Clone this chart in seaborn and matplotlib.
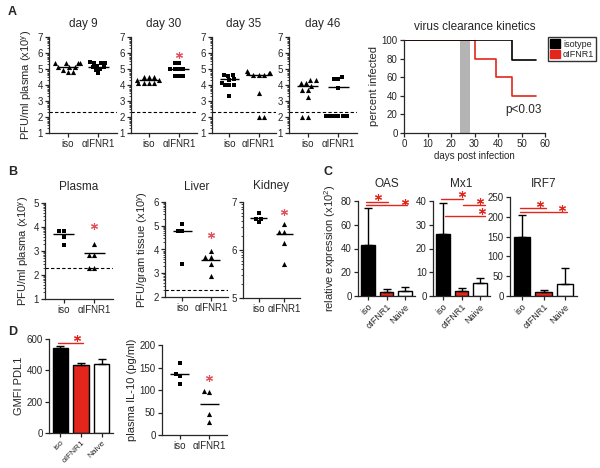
import matplotlib
matplotlib.use('Agg')
import matplotlib.pyplot as plt
import matplotlib.patches as mpatches
import numpy as np
import seaborn as sns

sns.set_style('ticks')
plt.rcParams['font.family'] = ['Liberation Sans', 'DejaVu Sans']
plt.rcParams['mathtext.fontset'] = 'custom'
plt.rcParams['mathtext.rm'] = 'Liberation Sans'
plt.rcParams['mathtext.it'] = 'Liberation Sans'
plt.rcParams['mathtext.default'] = 'regular'
plt.rcParams['axes.linewidth'] = 0.9
plt.rcParams['xtick.major.width'] = 0.9
plt.rcParams['ytick.major.width'] = 0.9

W, H = 600, 468
RED = '#e3261b'
STAR = '#e4505a'
STAR_MARK = (6, 2, 0)
groups = ['iso', 'αIFNR1']
bar_groups = ['iso', 'αIFNR1', 'Naive']
LOD = 2.3

###
### DATOS
###

# Panel A: virus titres by day
days = ['day 9', 'day 30', 'day 35', 'day 46']
iso_days = [
    [5.35, 5.35, 5.35, 5.35, 5.1, 5.1, 5.1, 4.95, 4.8, 4.8],
    [4.5, 4.5, 4.5, 4.3, 4.3, 4.15, 4.15, 4.15, 4.1],
    [4.65, 4.6, 4.55, 4.35, 4.3, 4.15, 4.0, 4.0, 4.0, 3.3],
    [4.3, 4.3, 4.1, 4.1, 3.95, 3.7, 3.7, 3.25, 2.0, 2.0],
]
ifnr_days = [
    [5.45, 5.4, 5.4, 5.35, 5.2, 5.15, 5.1, 5.0, 4.95, 4.75],
    [5.35, 5.35, 5.0, 5.0, 5.0, 5.0, 4.55, 4.55, 4.55],
    [4.85, 4.75, 4.75, 4.75, 4.65, 4.6, 4.6, 3.5, 2.0, 2.0],
    [4.5, 4.4, 4.4, 3.8, 2.05, 2.05, 2.05, 2.05, 2.05, 2.05],
]
iso_day_markers = ['^', '^', 's', '^']
ifnr_day_markers = ['s', 's', '^', 's']
iso_day_lines = [5.15, 4.3, 4.35, 3.92]
ifnr_day_lines = [5.15, 5.0, 4.6, 3.87]
day_stars = [None, 5.9, None, None]

# Panel A: clearance kinetics
kin_iso_x = [0, 46, 56]
kin_iso_y = [100, 78, 78]
kin_ifnr_x = [0, 30, 39, 46, 56]
kin_ifnr_y = [100, 80, 60, 40, 40]
treat_window = (24, 28)

# Panel B: organ titres
organs = ['Plasma', 'Liver', 'Kidney']
organ_ylabels = ['PFU/ml plasma (x10$^{y}$)', 'PFU/gram tissue (x10$^{y}$)', None]
organ_ylims = [(1, 5), (2, 6), (5, 7)]
organ_iso = [
    [3.85, 3.6, 3.85, 3.25],
    [5.08, 4.78, 4.78, 3.4],
    [6.78, 6.65, 6.58, 6.65],
]
organ_ifnr = [
    [3.3, 2.85, 2.85, 2.3, 2.3],
    [3.92, 3.68, 3.68, 3.4, 2.88],
    [6.55, 6.38, 6.38, 6.15, 5.7],
]
organ_iso_lines = [3.7, 4.78, 6.66]
organ_ifnr_lines = [2.9, 3.55, 6.33]
organ_stars = [4.05, 4.6, 6.8]
organ_lod = [True, True, False]

# Panel C: ISG expression
genes = ['OAS', 'Mx1', 'IRF7']
gene_means = [[43, 3.5, 4.5], [26, 2.3, 5.5], [150, 10, 30]]
gene_errs = [[31, 2, 3.5], [13, 1.2, 2], [55, 5, 40]]
gene_ymax = [80, 40, 250]
gene_ystep = [20, 10, 50]
# (from, to, height, star position, star height)
gene_sig = [
    [(0, 1, 79, 0.55, 83), (0, 2, 76.5, 2.0, 79.5)],
    [(0, 1, 40.7, 1.0, 42.8), (1.2, 2.2, 38.3, 2.0, 40.2), (0.2, 2.2, 33.8, 2.1, 35.6)],
    [(0, 1, 221, 0.85, 232), (0, 2, 213, 1.85, 223)],
]

# Panel D
pdl1_means = [540, 435, 440]
pdl1_errs = [15, 15, 35]
pdl1_sig = (0, 1, 577, 0.8, 605)
il10_iso = [160, 135, 132, 113]
il10_ifnr = [97, 95, 47, 29]
il10_lines = [135, 68]
il10_star = 127

# tamaño de marcador según forma
marker_size = {'s': 3.0, '^': 3.7}


def add_ax(x0, y0, x1, y1):
    return fig.add_axes([x0 / W, 1 - y1 / H, (x1 - x0) / W, (y1 - y0) / H])


def log_minor(lo, hi):
    return [d + np.log10(k) for d in range(lo, hi) for k in range(2, 10)]


def style(ax):
    sns.despine(ax=ax)
    ax.tick_params(labelsize=7, length=3, pad=1.5)
    ax.tick_params(which='minor', length=1.5, width=0.6)


def star(ax, x, y, color=STAR):
    ax.plot([x], [y], marker=STAR_MARK, ms=5, mew=0.8, color=color,
            clip_on=False, ls='none')


def scatter_panel(ax, iso_vals, ifnr_vals, iso_m, ifnr_m, lines):
    sns.swarmplot(x=['iso'] * len(iso_vals), y=iso_vals, order=groups,
                  marker=iso_m, color='black', size=marker_size[iso_m], ax=ax,
                  warn_thresh=1)
    sns.swarmplot(x=['αIFNR1'] * len(ifnr_vals), y=ifnr_vals, order=groups,
                  marker=ifnr_m, color='black', size=marker_size[ifnr_m],
                  ax=ax, warn_thresh=1)
    for i, v in enumerate(lines):
        ax.hlines(v, i - 0.33, i + 0.33, color='black', lw=1)
    ax.set_xlim(-0.6, 1.6)
    ax.set_xlabel('')
    ax.set_ylabel('')
    style(ax)


fig = plt.figure(figsize=(6, 4.68), dpi=100)

###
### A
###
a_boxes = [(49, 117), (131, 197), (212, 276), (289, 357)]
for k, (x0, x1) in enumerate(a_boxes):
    ax = add_ax(x0, 37, x1, 133)
    scatter_panel(ax, iso_days[k], ifnr_days[k], iso_day_markers[k],
                  ifnr_day_markers[k], [iso_day_lines[k], ifnr_day_lines[k]])
    ax.axhline(LOD, ls=(0, (3, 2)), color='black', lw=0.8)
    ax.set_ylim(1, 7)
    ax.set_yticks(range(1, 8))
    ax.set_yticks(log_minor(1, 7), minor=True)
    ax.set_title(days[k], fontsize=8.5, pad=7)
    if day_stars[k] is not None:
        star(ax, 1, day_stars[k])
    if k == 0:
        ax.set_ylabel('PFU/ml plasma (x10$^{y}$)', fontsize=8, labelpad=2)

ax = add_ax(404, 40, 545, 133)
ax.axvspan(*treat_window, color='#b4b4b4', lw=0)
sns.lineplot(x=kin_ifnr_x, y=kin_ifnr_y, drawstyle='steps-post', color=RED,
             lw=1.2, estimator=None, ax=ax)
sns.lineplot(x=kin_iso_x, y=kin_iso_y, drawstyle='steps-post', color='black',
             lw=1.2, estimator=None, ax=ax)
ax.set_xlim(0, 60)
ax.set_ylim(0, 100)
ax.set_xticks(range(0, 61, 10))
ax.set_yticks(range(0, 101, 20))
ax.set_xlabel('days post infection', fontsize=7, labelpad=1)
ax.set_ylabel('percent infected', fontsize=8, labelpad=2)
ax.set_title('virus clearance kinetics', fontsize=8.5, pad=7)
ax.text(43, 21, 'p<0.03', fontsize=8.5)
style(ax)
handles = [mpatches.Patch(facecolor='black', edgecolor='black', label='isotype'),
           mpatches.Patch(facecolor=RED, edgecolor=RED, label='αIFNR1')]
ax.legend(handles=handles, loc='upper left', bbox_to_anchor=(548 / W, 1 - 37 / H),
          bbox_transform=fig.transFigure, fontsize=6.5, frameon=True,
          fancybox=False, edgecolor='black', handlelength=1.1, handleheight=1.1,
          handletextpad=0.3, borderpad=0.25, labelspacing=0.1, borderaxespad=0)

###
### B
###
b_boxes = [(45, 203, 113, 299), (165, 202, 228, 297), (243, 202, 300, 298)]
for k, box in enumerate(b_boxes):
    ax = add_ax(*box)
    scatter_panel(ax, organ_iso[k], organ_ifnr[k], 's', '^',
                  [organ_iso_lines[k], organ_ifnr_lines[k]])
    lo, hi = organ_ylims[k]
    if organ_lod[k]:
        ax.axhline(LOD, ls=(0, (3, 2)), color='black', lw=0.8)
    ax.set_ylim(lo, hi)
    ax.set_yticks(range(lo, hi + 1))
    ax.set_yticks(log_minor(lo, hi), minor=True)
    ax.set_title(organs[k], fontsize=8.5, pad=9)
    star(ax, 1, organ_stars[k])
    if organ_ylabels[k]:
        ax.set_ylabel(organ_ylabels[k], fontsize=8, labelpad=2)

###
### C
###
c_boxes = [(358, 201, 415, 296), (433, 201, 490, 296), (510, 197, 577, 296)]
bar_colors = ['black', RED, 'white']
for k, box in enumerate(c_boxes):
    ax = add_ax(*box)
    sns.barplot(x=bar_groups, y=gene_means[k], hue=bar_groups,
                palette=bar_colors, saturation=1, edgecolor='black',
                linewidth=1, width=0.75, legend=False, ax=ax)
    ax.errorbar(range(3), gene_means[k], yerr=[np.zeros(3), gene_errs[k]],
                fmt='none', ecolor='black', elinewidth=1, capsize=3,
                capthick=1)
    for a, b, y, sx, sy in gene_sig[k]:
        ax.plot([a - 0.1, b + 0.1], [y, y], color=RED, lw=1, clip_on=False)
        star(ax, sx, sy, RED)
    ax.set_ylim(0, gene_ymax[k])
    ax.set_yticks(range(0, gene_ymax[k] + 1, gene_ystep[k]))
    ax.set_xlim(-0.55, 2.55)
    ax.set_title(genes[k], fontsize=8.5, pad=10 if k < 2 else 7)
    style(ax)
    ax.tick_params(axis='x', labelrotation=45, labelsize=6.5)
    for t in ax.get_xticklabels():
        t.set_ha('right')
        t.set_rotation_mode('anchor')
    if k == 0:
        ax.set_ylabel('relative expression (x10$^{2}$)', fontsize=8,
                      labelpad=2)

###
### D
###
ax = add_ax(49, 339, 113, 433)
sns.barplot(x=bar_groups, y=pdl1_means, hue=bar_groups, palette=bar_colors,
            saturation=1, edgecolor='black', linewidth=1, width=0.75,
            legend=False, ax=ax)
ax.errorbar(range(3), pdl1_means, yerr=[np.zeros(3), pdl1_errs], fmt='none',
            ecolor='black', elinewidth=1, capsize=3, capthick=1)
a, b, y, sx, sy = pdl1_sig
ax.plot([a - 0.1, b + 0.1], [y, y], color=RED, lw=1, clip_on=False)
star(ax, sx, sy, RED)
ax.set_ylim(0, 600)
ax.set_yticks(range(0, 601, 200))
ax.set_xlim(-0.55, 2.55)
ax.set_ylabel('GMFI PDL1', fontsize=8, labelpad=2)
style(ax)
ax.tick_params(axis='x', labelrotation=45, labelsize=6)
for t in ax.get_xticklabels():
    t.set_ha('right')
    t.set_rotation_mode('anchor')

ax = add_ax(162, 345, 227, 435)
scatter_panel(ax, il10_iso, il10_ifnr, 's', '^', il10_lines)
ax.set_ylim(0, 200)
ax.set_yticks(range(0, 201, 50))
star(ax, 1, il10_star)
ax.set_ylabel('plasma IL-10 (pg/ml)', fontsize=8, labelpad=2)

# Letras de panel
for letter, (x, y) in {'A': (8, 12), 'B': (8, 172), 'C': (323, 172),
                       'D': (8, 332)}.items():
    fig.text(x / W, 1 - y / H, letter, fontsize=9, fontweight='bold',
             va='center')

fig.savefig('out.png', dpi=100)
